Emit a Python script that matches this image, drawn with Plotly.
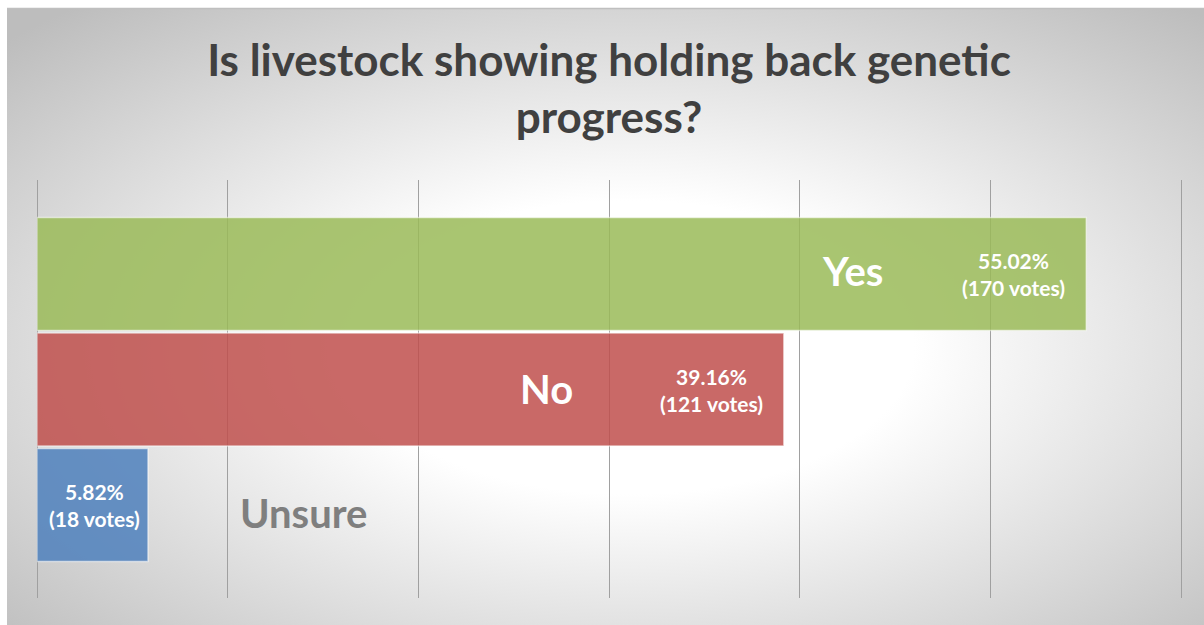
import base64
import plotly.graph_objects as go

# Poll results
categories = ["Yes", "No", "Unsure"]
percentages = [55.02, 39.16, 5.82]
votes = [170, 121, 18]
bar_colors = ["#9BBB59", "#C0504D", "#4F81BD"]

x_ticks = [0, 10, 20, 30, 40, 50, 60]

W, H = 1204, 625
M_L, M_R, M_T, M_B = 37, 17, 180, 27
plot_w = W - M_L - M_R
plot_h = H - M_T - M_B

# Soft radial background for the chart area
svg = f"""<svg xmlns='http://www.w3.org/2000/svg' width='1197' height='617' viewBox='0 0 1197 617' preserveAspectRatio='none'>
<defs><radialGradient id='g' cx='0.52' cy='0.55' r='0.72'>
<stop offset='0' stop-color='#ffffff'/>
<stop offset='0.33' stop-color='#ffffff'/>
<stop offset='1' stop-color='#bdbdbd'/>
</radialGradient></defs>
<rect width='1197' height='617' fill='url(#g)'/>
</svg>"""
bg_uri = "data:image/svg+xml;base64," + base64.b64encode(svg.encode()).decode()

fig = go.Figure()

fig.add_trace(go.Bar(
    y=categories,
    x=percentages,
    orientation="h",
    width=0.98,
    marker=dict(color=bar_colors, opacity=0.85,
                line=dict(color="rgba(255,255,255,0.6)", width=1.5)),
    hoverinfo="skip",
    showlegend=False,
))

# Value labels (percent + vote count) and category names
value_label_x = [p - 3.8 for p in percentages[:2]] + [percentages[2] / 2 + 0.13]
name_label_x = [42.75, 26.7, 13.95]
name_colors = ["white", "white", "#7f7f7f"]
name_shift = [3, 1, -8]

for cat, pct, v, vx, nx, nc, ns in zip(categories, percentages, votes,
                                        value_label_x, name_label_x,
                                        name_colors, name_shift):
    fig.add_annotation(
        x=vx, y=cat, xref="x", yref="y",
        text=f"{pct:.2f}%<br>({v} votes)",
        showarrow=False, align="center",
        font=dict(family="Lato", size=21, color="white", weight="bold"),
    )
    fig.add_annotation(
        x=nx, y=cat, xref="x", yref="y", yshift=ns,
        text=cat, showarrow=False,
        font=dict(family="Lato", size=40, color=nc, weight="bold"),
    )

fig.add_layout_image(
    source=bg_uri, xref="paper", yref="paper",
    x=(7 - M_L) / plot_w, y=(H - M_B - 8) / plot_h,
    sizex=(W - 7) / plot_w, sizey=(H - 8) / plot_h,
    sizing="stretch", xanchor="left", yanchor="top",
    layer="below",
)

# Thin top border of the chart area
fig.add_shape(type="line", xref="paper", yref="paper",
              x0=(7 - M_L) / plot_w, x1=(W - M_L) / plot_w,
              y0=(H - M_B - 8.5) / plot_h, y1=(H - M_B - 8.5) / plot_h,
              line=dict(color="#bfbfbf", width=1.5))

fig.update_layout(
    width=W, height=H,
    margin=dict(l=M_L, r=M_R, t=M_T, b=M_B),
    paper_bgcolor="white",
    plot_bgcolor="rgba(0,0,0,0)",
    title=dict(
        text="Is livestock showing holding back genetic<br>progress?",
        x=609 / W, xanchor="center",
        y=1 - 76 / H, yanchor="top", yref="container",
        font=dict(family="Lato", size=44, color="#404040", weight="bold"),
    ),
    xaxis=dict(range=[0, 60.3], tickvals=x_ticks, showticklabels=False,
               showgrid=True, gridcolor="#a0a0a0", gridwidth=1,
               zeroline=True, zerolinecolor="#a0a0a0", zerolinewidth=1,
               showline=False, fixedrange=True),
    yaxis=dict(categoryorder="array", categoryarray=categories[::-1],
               range=[-0.805, 2.814], showticklabels=False,
               showgrid=False, zeroline=False, showline=False, fixedrange=True),
    bargap=0.02,
)

fig.write_html("out.html")
